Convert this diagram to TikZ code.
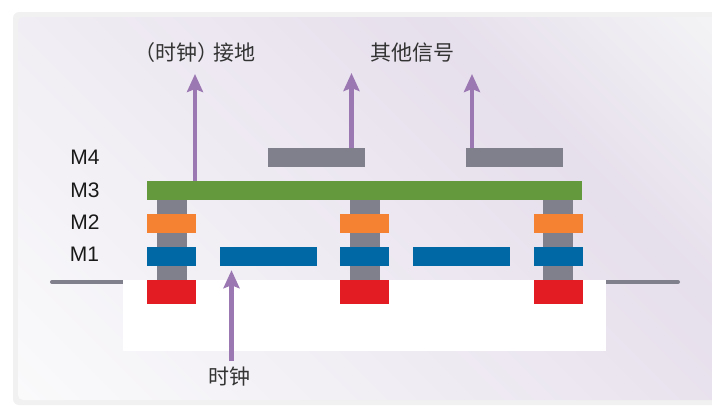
\documentclass[tikz,border=0pt]{standalone}
\usepackage{fontspec}
\setmainfont{Liberation Sans}
\newfontfamily\cjk{Noto Sans CJK SC}
\usetikzlibrary{arrows.meta,calc}

\definecolor{signalpurple}{HTML}{9B78B2}
\definecolor{metalgray}{HTML}{807F8C}
\definecolor{metalgreen}{HTML}{65993E}
\definecolor{metalorange}{HTML}{F58233}
\definecolor{metalblue}{HTML}{0068A5}
\definecolor{contactred}{HTML}{E31C23}
\definecolor{cardedge}{HTML}{F1F1F1}
\definecolor{fadelight}{HTML}{FAFAFB}
\definecolor{fademid}{HTML}{E6DFEC}
\definecolor{fadeend}{HTML}{F3F3F5}
\pgfdeclareverticalshading{cardfade}{100bp}{color(0bp)=(fadelight); color(22.8bp)=(fadelight); color(63bp)=(fademid); color(77bp)=(fadeend); color(100bp)=(fadeend)}

\begin{document}
\begin{tikzpicture}[x=1pt, y=-1pt,
                    metal/.style = {rectangle, inner sep=0pt, minimum height=19pt},
                    wire/.style = {metal, minimum width=97pt},
                    pad/.style = {metal, minimum width=49pt},
                    via/.style = {rectangle, inner sep=0pt, fill=metalgray, minimum width=30pt, minimum height=80pt},
                    contact/.style = {pad, fill=contactred, minimum height=24pt},
                    layer/.style = {font=\fontsize{21}{24}\selectfont, inner sep=0pt, text=black!90},
                    caption/.style = {font=\fontsize{21}{24}\selectfont\cjk, inner sep=0pt, text=black!80},
                    signal/.style = {-{Stealth[length=18pt, width=16pt, inset=3pt]}, line width=4.2pt, draw=signalpurple},
                    ground/.style = {line width=4pt, line cap=round, draw=metalgray} ]

                \useasboundingbox (0,0) rectangle (712,405);
                \clip (0,0) rectangle (712,405);

                % card behind everything
                \fill [cardedge, rounded corners=6pt] (13,12) rectangle (740,405);
                \begin{scope}
                    \clip [rounded corners=5pt] (18,17) rectangle (740,400);
                    \shade [shading=cardfade, shading angle=-45] (15,-142) rectangle (715,558);
                \end{scope}

                % surface line and substrate
                \coordinate (surfaceleft) at (52,282);
                \coordinate (surfaceright) at (678,282);
                \draw [ground] (surfaceleft) -- (surfaceright);
                \node [rectangle, inner sep=0pt, fill=white, minimum width=483pt, minimum height=71pt] (substrate) at (364.5,315.5) {};

                \node [via] (viaa) at (172,240) {};
                \node [via] (viab) at (365,240) {};
                \node [via] (viac) at (558,240) {};

                \node [metal, fill=metalgreen, minimum width=435pt] (metalthree) at (364.5,190.5) {};
                \node [wire, fill=metalgray] (metalfoura) at (316.5,157.5) {};
                \node [wire, fill=metalgray] (metalfourb) at (514.5,157.5) {};

                \node [pad, fill=metalorange] (metaltwoa) at (171.5,223.5) {};
                \node [pad, fill=metalorange] (metaltwob) at (364.5,223.5) {};
                \node [pad, fill=metalorange] (metaltwoc) at (558.5,223.5) {};

                \node [pad, fill=metalblue] (metalonea) at (171.5,256.5) {};
                \node [pad, fill=metalblue] (metaloneb) at (364.5,256.5) {};
                \node [pad, fill=metalblue] (metalonec) at (558.5,256.5) {};
                \node [wire, fill=metalblue] (clockwire) at (268.5,256.5) {};
                \node [wire, fill=metalblue] (otherwire) at (461.5,256.5) {};

                \node [contact] (contacta) at (171.5,292) {};
                \node [contact] (contactb) at (364.5,292) {};
                \node [contact] (contactc) at (558.5,292) {};

                % layer names
                \node [layer] (labelfour) at (85,157) {M4};
                \node [layer] (labelthree) at (85,190) {M3};
                \node [layer] (labeltwo) at (85,222) {M2};
                \node [layer] (labelone) at (84.5,254) {M1};

                % signals
                \node [caption] (groundlabel) at (194.5,53) {（时钟）\kern-5pt 接地};
                \node [caption] (otherlabel) at (412,53) {其他信号};
                \node [caption] (clocklabel) at (229,377) {时钟};

                \coordinate (groundtip) at (195,74);
                \coordinate (othertipa) at (351.5,73);
                \coordinate (othertipb) at (472,74);
                \coordinate (clockfoot) at (231.5,361);

                \draw [signal] (metalthree.north -| groundtip) -- (groundtip);
                \draw [signal] (metalfoura.north -| othertipa) -- (othertipa);
                \draw [signal] (metalfourb.north -| othertipb) -- (othertipb);
                \draw [signal, shorten >=4pt] (clockfoot) -- (clockwire.south -| clockfoot);
            \end{tikzpicture}
\end{document}
